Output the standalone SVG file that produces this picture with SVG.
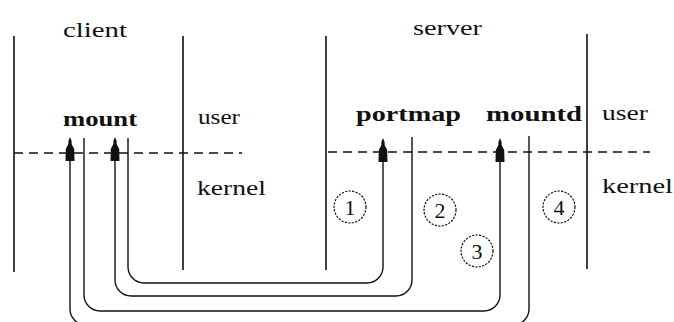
<svg xmlns="http://www.w3.org/2000/svg" xmlns:xlink="http://www.w3.org/1999/xlink" width="674" height="322" viewBox="0 0 674 322">
  <style>
    .bound { stroke: #111; stroke-width: 1.6; fill: none; }
    .layer { stroke: #111; stroke-width: 1.4; stroke-dasharray: 9 6; fill: none; }
    .wire { stroke: #111; stroke-width: 1.4; fill: none; }
    .step circle { fill: none; stroke: #111; stroke-width: 1.2; stroke-dasharray: 2.2 1.3; }
  </style>
  <defs>
    <!-- tall filled arrowhead, tip at the origin pointing up -->
    <path id="head" d="M0,0 L1.6,4 L1.6,7 L4.2,12 L4.5,24 L-4.5,24 L-4.2,12 L-1.6,7 L-1.6,4 Z" fill="#111"/>
  </defs>
  <rect width="674" height="322" fill="#fff"/>

  <!-- host and privilege boundaries -->
  <g id="boundaries">
    <line class="bound" x1="14" y1="36" x2="14" y2="272"/>
    <line class="bound" x1="183" y1="36" x2="183" y2="270"/>
    <line class="bound" x1="326" y1="36" x2="326" y2="270"/>
    <line class="bound" x1="587" y1="34" x2="587" y2="269"/>
    <line class="layer" x1="14" y1="153" x2="242" y2="153"/>
    <line class="layer" x1="328" y1="152" x2="650" y2="152"/>
  </g>

  <!-- zone labels -->
  <g id="labels" font-family="Liberation Serif, serif" font-size="22" fill="#111">
    <text x="63" y="37" textLength="64" lengthAdjust="spacingAndGlyphs">client</text>
    <text x="413" y="35" textLength="69" lengthAdjust="spacingAndGlyphs">server</text>
    <text x="198" y="124" textLength="42" lengthAdjust="spacingAndGlyphs">user</text>
    <text x="602" y="120" textLength="46" lengthAdjust="spacingAndGlyphs">user</text>
    <text x="197" y="195" textLength="69" lengthAdjust="spacingAndGlyphs">kernel</text>
    <text x="602" y="193" textLength="71" lengthAdjust="spacingAndGlyphs">kernel</text>
  </g>

  <!-- processes -->
  <g font-family="Liberation Serif, serif" font-size="22" font-weight="bold" fill="#111">
    <g id="mount">
      <text x="63" y="126" textLength="74" lengthAdjust="spacingAndGlyphs">mount</text>
    </g>
    <g id="portmap">
      <text x="356" y="121" textLength="105" lengthAdjust="spacingAndGlyphs">portmap</text>
    </g>
    <g id="mountd">
      <text x="486" y="121" textLength="96" lengthAdjust="spacingAndGlyphs">mountd</text>
    </g>
  </g>

  <!-- request / reply paths -->
  <g id="connectors">
    <!-- 1: mount -> portmap -->
    <path class="wire" d="M128,138 V267 A16,16 0 0 0 144,283 H367 A16,16 0 0 0 383,267 V150"/>
    <use xlink:href="#head" x="383" y="138"/>
    <!-- 2: portmap -> mount -->
    <path class="wire" d="M412,137 V280 A16,16 0 0 1 396,296 H131 A16,16 0 0 1 115,280 V150"/>
    <use xlink:href="#head" x="115" y="137"/>
    <!-- 3: mount -> mountd -->
    <path class="wire" d="M84,138 V295 A16,16 0 0 0 100,311 H484 A16,16 0 0 0 500,295 V150"/>
    <use xlink:href="#head" x="500" y="138"/>
    <!-- 4: mountd -> mount -->
    <path class="wire" d="M529,136 V309 A16,16 0 0 1 513,325 H86 A16,16 0 0 1 70,309 V150"/>
    <use xlink:href="#head" x="70" y="137"/>
  </g>

  <!-- step numbers -->
  <g font-family="Liberation Serif, serif" font-size="22" fill="#111" text-anchor="middle">
    <g id="step1" class="step">
      <circle cx="350" cy="207" r="16"/>
      <text x="350" y="215">1</text>
    </g>
    <g id="step2" class="step">
      <circle cx="440" cy="210" r="16"/>
      <text x="440" y="218">2</text>
    </g>
    <g id="step3" class="step">
      <circle cx="477" cy="251" r="16"/>
      <text x="477" y="259">3</text>
    </g>
    <g id="step4" class="step">
      <circle cx="559" cy="207" r="16"/>
      <text x="559" y="215">4</text>
    </g>
  </g>
</svg>
